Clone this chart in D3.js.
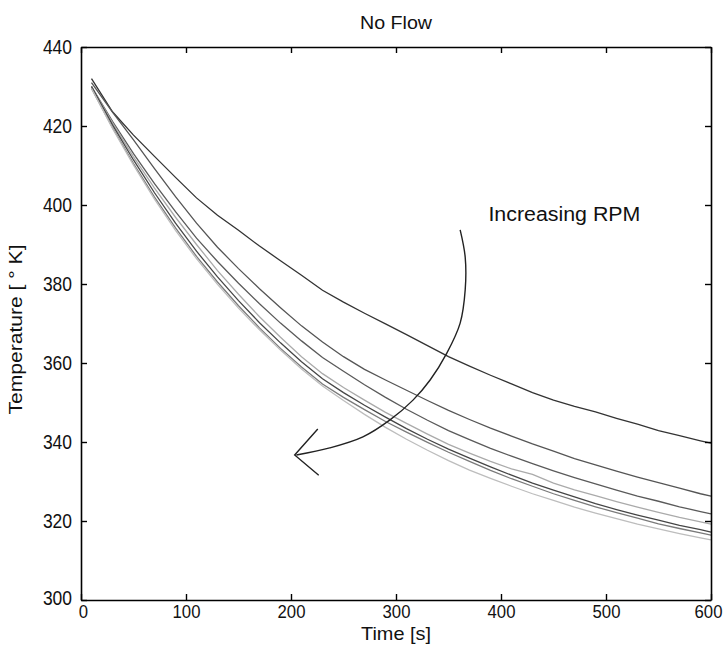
<!DOCTYPE html>
<html>
<head>
<meta charset="utf-8">
<script src="https://cdn.jsdelivr.net/npm/d3@7"></script>
<style>
  html, body { margin: 0; padding: 0; background: #fff; }
  svg { display: block; }
  text { font-family: "Liberation Sans", Arial, sans-serif; fill: #111; }
</style>
</head>
<body>
<div id="chart"></div>
<script>
// ---- Data ----
const times = [10,30,50,70,90,110,130,150,170,190,210,230,250,270,290,310,330,350,370,390,410,430,450,470,490,510,530,550,570,590,600];

const seriesA = [432.0,423.6,417.7,412.3,407.0,401.8,397.4,393.6,389.6,385.9,382.2,378.4,375.4,372.6,369.9,367.2,364.4,361.6,359.2,356.9,354.7,352.5,350.6,349.0,347.6,346.0,344.5,342.9,341.6,340.3,339.7];
const seriesB = [431.0,423.5,416.5,409.2,402.1,395.4,389.3,383.9,378.8,374.0,369.4,365.3,361.6,358.4,355.7,353.1,350.5,348.0,345.7,343.5,341.5,339.5,337.7,335.8,334.2,332.6,331.1,329.7,328.3,326.9,326.3];
const seriesC = [430.0,421.2,413.0,405.4,398.3,391.6,385.7,380.2,375.0,370.1,365.6,361.4,357.9,354.5,351.3,348.3,345.5,342.9,340.6,338.4,336.4,334.5,332.7,331.0,329.4,327.8,326.3,325.0,323.6,322.4,321.8];
const seriesD = [430.0,420.8,412.2,404.3,396.9,390.0,383.4,377.4,371.7,366.5,361.6,357.3,353.8,350.6,347.5,344.7,342.0,339.4,337.2,335.1,333.2,331.8,329.6,327.9,326.4,324.9,323.5,322.2,320.9,319.8,319.2];
const seriesE = [430.0,420.3,411.4,403.1,395.4,388.3,381.8,375.8,370.2,365.1,360.3,356.0,352.5,349.3,346.3,343.4,340.7,338.2,335.9,333.7,331.6,329.6,327.8,326.1,324.4,322.9,321.5,320.2,318.9,317.8,317.2];
const seriesF = [429.5,419.6,410.5,402.0,394.2,387.0,380.5,374.5,368.9,363.7,359.0,354.7,351.3,348.2,345.2,342.5,339.9,337.4,335.1,332.8,330.7,328.8,326.9,325.2,323.6,322.1,320.7,319.3,318.1,317.0,316.4];
const seriesG = [429.5,419.4,410.1,401.5,393.6,386.4,379.9,373.9,368.4,363.3,358.5,354.2,350.5,347.0,343.7,340.7,337.9,335.3,332.9,330.8,328.8,326.9,325.2,323.5,322.0,320.6,319.2,318.0,316.8,315.7,315.2];

const seriesList = [seriesA, seriesB, seriesC, seriesD, seriesE, seriesF, seriesG];
const seriesColors = ["#333333", "#555555", "#5a5a5a", "#aaaaaa", "#454545", "#7a7a7a", "#bdbdbd"];

const xTicks = [0,100,200,300,400,500,600];
const yTicks = [300,320,340,360,380,400,420,440];

// annotation arrow (in data units: time, temperature)
const arrowArcT = [361.1,365.9,365.9,361.1,348.4,332.5,316.2,294.3,268.5,236.9,205.1];
const arrowArcV = [393.7,386.8,378.5,370.1,362.5,355.7,350.6,345.6,341.3,338.5,336.7];
const arrowHeadT = [225.5,203.5,226.4];
const arrowHeadV = [343.3,336.7,331.6];

const titleText = "No Flow";
const xLabel = "Time [s]";
const yLabel = "Temperature [ \u00B0 K]";
const noteText = "Increasing RPM";
const noteT = 388, noteV = 396;

// ---- Layout ----
const W = 726, H = 657;
const m = {left: 81, top: 47, right: 15, bottom: 57};
const iw = W - m.left - m.right;
const ih = H - m.top - m.bottom;

const svg = d3.select("#chart").append("svg").attr("width", W).attr("height", H);
const g = svg.append("g").attr("transform", `translate(${m.left},${m.top})`);

const x = d3.scaleLinear().domain([0, 600]).range([0, iw]);
const y = d3.scaleLinear().domain([300, 440]).range([ih, 0]);

// series lines
const line = d3.line().x((d, i) => x(times[i])).y(d => y(d));
seriesList.forEach((s, k) => {
  g.append("path").datum(s)
    .attr("fill", "none")
    .attr("stroke", seriesColors[k])
    .attr("stroke-width", 1.3)
    .attr("d", line);
});

// arrow annotation
const arcPts = arrowArcT.map((t, i) => [t, arrowArcV[i]]);
g.append("path").datum(arcPts)
  .attr("fill", "none").attr("stroke", "#222").attr("stroke-width", 1.4)
  .attr("d", d3.line().x(d => x(d[0])).y(d => y(d[1])).curve(d3.curveCatmullRom));
const headPts = arrowHeadT.map((t, i) => [t, arrowHeadV[i]]);
g.append("path").datum(headPts)
  .attr("fill", "none").attr("stroke", "#222").attr("stroke-width", 1.4)
  .attr("d", d3.line().x(d => x(d[0])).y(d => y(d[1])));

g.append("text").attr("x", x(noteT)).attr("y", y(noteV))
  .attr("font-size", 20).attr("textLength", 152).attr("lengthAdjust", "spacingAndGlyphs")
  .text(noteText);

// axes (MATLAB box with inward ticks)
function styleAxis(sel, digitW, fs) {
  sel.select(".domain").attr("stroke", "#000").attr("stroke-width", 1.6);
  sel.selectAll(".tick line").attr("stroke", "#000").attr("stroke-width", 1.4);
  sel.selectAll("text").attr("font-size", fs || 21).attr("fill", "#111")
    .attr("font-family", "'Liberation Sans', Arial, sans-serif")
    .attr("lengthAdjust", "spacingAndGlyphs")
    .attr("textLength", function() { return this.textContent.length * (digitW || 9.7); });
}
const xAxisG = g.append("g").attr("transform", `translate(0,${ih})`)
  .call(d3.axisBottom(x).tickValues(xTicks).tickSizeInner(-6).tickSizeOuter(0).tickPadding(5))
  .call(styleAxis, 9.3, 19);
// keep the end labels clear of the corner and the window edge
xAxisG.selectAll(".tick text").filter(d => d === 600).attr("dx", -3);
xAxisG.selectAll(".tick text").filter(d => d === 0).attr("dx", 2);
g.append("g")
  .call(d3.axisLeft(y).tickValues(yTicks).tickSizeInner(-6).tickSizeOuter(0).tickPadding(9))
  .call(styleAxis, 9.7, 20)
  .selectAll(".tick text").filter(d => d === 300).attr("dy", "0.2em");
g.append("g")
  .call(d3.axisTop(x).tickValues(xTicks).tickSizeInner(-6).tickSizeOuter(0).tickFormat(""))
  .call(styleAxis);
g.append("g").attr("transform", `translate(${iw},0)`)
  .call(d3.axisRight(y).tickValues(yTicks).tickSizeInner(-6).tickSizeOuter(0).tickFormat(""))
  .call(styleAxis);

// labels
svg.append("text").attr("x", m.left + iw / 2).attr("y", 29)
  .attr("text-anchor", "middle").attr("font-size", 18)
  .attr("textLength", 72).attr("lengthAdjust", "spacingAndGlyphs")
  .text(titleText);
svg.append("text").attr("x", m.left + iw / 2).attr("y", 640)
  .attr("text-anchor", "middle").attr("font-size", 19)
  .attr("textLength", 70).attr("lengthAdjust", "spacingAndGlyphs")
  .text(xLabel);
svg.append("text").attr("transform", `translate(22,${m.top + ih / 2 + 6}) rotate(-90)`)
  .attr("text-anchor", "middle").attr("font-size", 18)
  .attr("textLength", 170).attr("lengthAdjust", "spacingAndGlyphs")
  .text(yLabel);
</script>
</body>
</html>
